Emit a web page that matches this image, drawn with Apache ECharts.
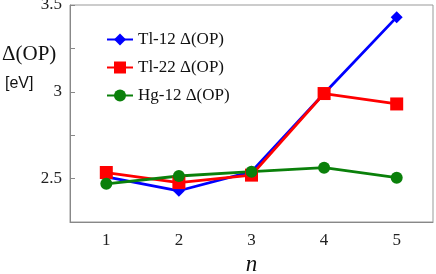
<!DOCTYPE html>
<html><head><meta charset="utf-8">
<script src="https://cdn.jsdelivr.net/npm/echarts@6/dist/echarts.min.js"></script>
<style>html,body{margin:0;padding:0;background:#fff}#c{width:436px;height:274px}</style>
</head><body><div id="c"></div>
<script>
const categories = ['1','2','3','4','5'];
const tl12 = [2.51, 2.43, 2.54, 2.99, 3.43];
const tl22 = [2.535, 2.477, 2.52, 2.99, 2.93];
const hg12 = [2.47, 2.515, 2.54, 2.563, 2.505];
const yTickValues = [2.25, 2.5, 2.75, 3, 3.25, 3.5];
const yLabelValues = [2.5, 3, 3.5];

const serif = '"Liberation Serif","DejaVu Serif",serif';
const chart = echarts.init(document.getElementById('c'), null, {renderer:'canvas'});
function ser(name, data, color, symbol, size){
  return {name, type:'line', data, symbol, symbolSize:size, showSymbol:true,
    lineStyle:{color, width:2.8}, itemStyle:{color}, animation:false};
}
chart.setOption({
  animation:false,
  grid:{left:70, right:3, top:5, bottom:52, outerBoundsMode:'none', containLabel:false,
    show:true, borderColor:'#999', borderWidth:1, backgroundColor:'transparent'},
  legend:{orient:'vertical', left:106, top:31, padding:0, itemWidth:26, itemHeight:15, itemGap:11,
    textStyle:{fontFamily:serif, fontSize:17, color:'#111'},
    data:[{name:'Tl-12 Δ(OP)'},{name:'Tl-22 Δ(OP)'},{name:'Hg-12 Δ(OP)'}]},
  xAxis:{type:'category', data:categories, boundaryGap:true,
    name:'n', nameLocation:'middle', nameGap:30,
    nameTextStyle:{fontFamily:serif, fontStyle:'italic', fontSize:23, color:'#111'},
    axisLine:{lineStyle:{color:'#888'}},
    axisTick:{inside:true, alignWithLabel:true, length:5, lineStyle:{color:'#888'}},
    axisLabel:{fontFamily:serif, fontSize:17, color:'#222', margin:10},
    splitLine:{show:false}},
  yAxis:{type:'value', min:2.25, max:3.5, interval:0.25,
    axisLine:{show:true, lineStyle:{color:'#888'}},
    axisTick:{show:true, inside:true, length:5, lineStyle:{color:'#888'}, customValues:yTickValues},
    axisLabel:{fontFamily:serif, fontSize:17, color:'#222', margin:8, customValues:yLabelValues,
      formatter:v=>String(v)},
    splitLine:{show:false}},
  graphic:[
    {type:'text', left:2, top:44, style:{text:'Δ(OP)', font:'21px '+serif, fill:'#111'}},
    {type:'text', left:5, top:76, style:{text:'[eV]', font:'16px "Liberation Sans",Arial,sans-serif', fill:'#111'}}
  ],
  series:[
    ser('Tl-12 Δ(OP)', tl12, '#0000ff', 'diamond', 12),
    ser('Tl-22 Δ(OP)', tl22, '#ff0000', 'rect', 13),
    ser('Hg-12 Δ(OP)', hg12, '#0a800a', 'circle', 12)
  ]
});
</script></body></html>
